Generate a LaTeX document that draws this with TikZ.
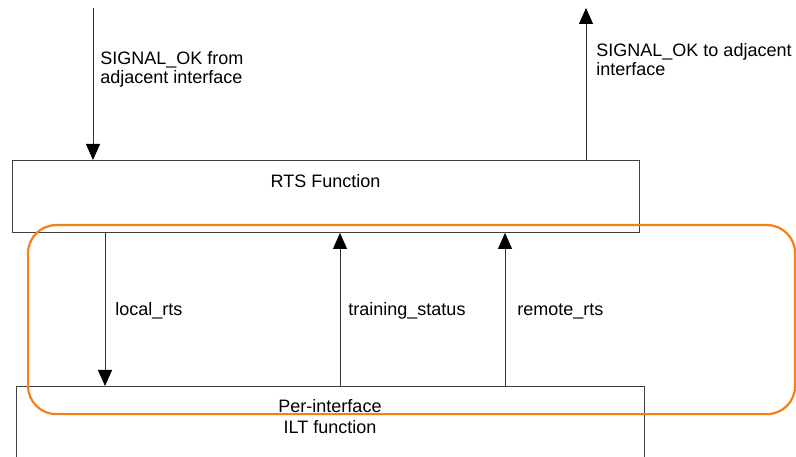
\documentclass[tikz,border=0pt]{standalone}
\usepackage{fontspec}
\setmainfont{Liberation Sans}
\usetikzlibrary{arrows.meta}
\definecolor{grouporange}{RGB}{245,128,20}
\begin{document}
\begin{tikzpicture}[x=1pt,y=-1pt,line width=0.9pt,
  box/.style={draw=black!75,rectangle,inner sep=0pt,anchor=north west},
  flow/.style={draw=black!80,-{Triangle[width=14pt,length=16pt,fill=black,color=black]}},
  lbl/.style={font=\fontsize{18}{19.5}\selectfont,inner sep=0pt,align=left,anchor=base west},
  grp/.style={draw=grouporange,line width=2.2pt,rounded corners=28pt,rectangle,inner sep=0pt,anchor=north west}]
\clip (0,0) rectangle (796,457);

% functional blocks
\node[box,minimum width=627pt,minimum height=72pt] (rts) at (12,160) {};
\node[box,minimum width=628pt,minimum height=110pt] (ilt) at (16,386) {};

% signal connectors
\coordinate (inTop) at (93,8);
\coordinate (outTop) at (586,8);
\coordinate (lx) at (105,300);
\coordinate (tx) at (340,300);
\coordinate (rx) at (505,300);
\draw[flow] (inTop) -- (inTop |- rts.north);
\draw[flow] (outTop |- rts.north) -- (outTop);
\draw[flow] (lx |- rts.south) -- (lx |- ilt.north);
\draw[flow] (tx |- ilt.north) -- (tx |- rts.south);
\draw[flow] (rx |- ilt.north) -- (rx |- rts.south);

% labels (base anchor sits on the last line)
\node[lbl] (inLbl) at (100,84) {SIGNAL\_OK from\\adjacent interface};
\node[lbl] (outLbl) at (596,76) {SIGNAL\_OK to adjacent\\interface};
\node[lbl,anchor=base] (rtsLbl) at (325.5,188) {RTS Function};
\node[lbl] (localLbl) at (115,316) {local\_rts};
\node[lbl] (trainLbl) at (348,316) {training\_status};
\node[lbl] (remoteLbl) at (517,316) {remote\_rts};
\node[lbl,align=center,anchor=base,font=\fontsize{18}{21}\selectfont] (iltLbl) at (330,433) {Per-interface\\ILT function};

% highlighted group
\node[grp,minimum width=767pt,minimum height=189pt] (group) at (27,224) {};
\end{tikzpicture}
\end{document}
